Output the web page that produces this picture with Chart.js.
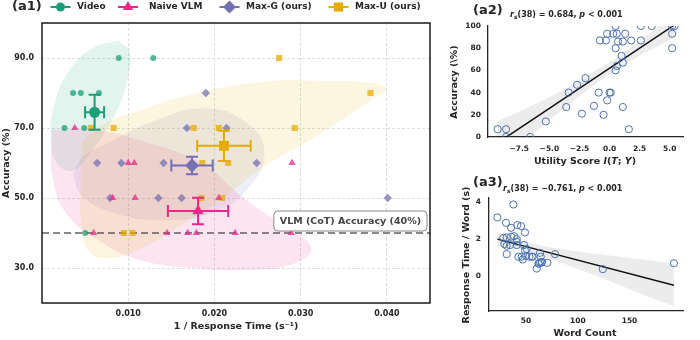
<!DOCTYPE html>
<html>
<head>
<meta charset="utf-8">
<script src="https://cdn.jsdelivr.net/npm/chart.js@4.4.1/dist/chart.umd.min.js"></script>
<style>
  html, body { margin: 0; padding: 0; background: #fff; }
  #wrap { position: relative; width: 700px; height: 340px; overflow: hidden; }
  canvas { position: absolute; }
  #c1 { left: 0; top: 0; }
  #c2 { left: 440px; top: 0; }
  #c3 { left: 440px; top: 165px; }
</style>
</head>
<body>
<div id="wrap">
  <canvas id="c1" width="440" height="340"></canvas>
  <canvas id="c2" width="260" height="170"></canvas>
  <canvas id="c3" width="260" height="175"></canvas>
</div>
<script>
// ---- (a1) accuracy vs 1 / response time ----
const seriesNames = ["Video", "Naive VLM", "Max-G (ours)", "Max-U (ours)"];

const videoX = [0.0089, 0.0129, 0.0036, 0.0045, 0.0066, 0.0026, 0.0049, 0.0050];
const videoY = [90, 90, 80, 80, 80, 70, 70, 40];
const naiveX = [0.0038, 0.0100, 0.0107, 0.0290, 0.0082, 0.0108, 0.0205, 0.0060, 0.0145, 0.0169, 0.0179, 0.0224, 0.0289];
const naiveY = [70, 60, 60, 60, 50, 50, 50, 40, 40, 40, 40, 40, 40];
const maxgX = [0.0190, 0.0168, 0.0214, 0.0064, 0.0092, 0.0141, 0.0249, 0.0079, 0.0135, 0.0162, 0.0401];
const maxgY = [80, 70, 70, 60, 60, 60, 60, 50, 50, 50, 50];
const maxuX = [0.0275, 0.0381, 0.0057, 0.0083, 0.0176, 0.0205, 0.0293, 0.0186, 0.0216, 0.0185, 0.0209, 0.0095, 0.0105];
const maxuY = [90, 80, 70, 70, 70, 70, 70, 60, 60, 50, 50, 40, 40];

const meanX = [0.0061, 0.0181, 0.0174, 0.0211];
const meanY = [74.5, 46.3, 59.3, 64.9];
const errX = [0.0011, 0.0035, 0.0024, 0.0031];
const errY = [5.0, 3.8, 2.5, 4.3];

// shaded regions (outline)
const greenBlobX = [0.0089, 0.0102, 0.0100, 0.0091, 0.0075, 0.0056, 0.0036, 0.0017, 0.0010, 0.0015, 0.0033, 0.0060];
const greenBlobY = [94.9, 91.6, 85, 77.3, 69.7, 63, 57.8, 60.2, 67.8, 77.3, 86.9, 93];
const pinkBlobX = [0.0011, 0.0060, 0.0120, 0.0184, 0.0234, 0.0280, 0.0312, 0.0295, 0.0245, 0.0175, 0.0110, 0.0065, 0.0030, 0.0013];
const pinkBlobY = [69.5, 69.5, 66, 60, 50, 42, 36, 31.5, 29.5, 30, 32.5, 38, 45, 55];
const greyBlobX = [0.0036, 0.0048, 0.0075, 0.0130, 0.0192, 0.0240, 0.0258, 0.0240, 0.0200, 0.0140, 0.0080, 0.0045];
const greyBlobY = [57, 62, 65.5, 72, 75.6, 71, 63, 53, 46, 43.6, 46, 51];
const yellowBlobX = [0.0047, 0.0075, 0.0114, 0.0160, 0.0250, 0.0330, 0.0378, 0.0399, 0.0385, 0.0320, 0.0255, 0.0210, 0.0160, 0.0110, 0.0080, 0.0055, 0.0046, 0.0045];
const yellowBlobY = [66.5, 71.6, 75, 78.7, 83, 83.5, 83, 81.3, 78.5, 68, 58.5, 50, 42, 35, 32.8, 34.5, 42, 55];

const cotAccuracy = 40;
const xTicks1 = [0.01, 0.02, 0.03, 0.04];
const yTicks1 = [30, 50, 70, 90];

// ---- (a2) accuracy vs utility score ----
const utilX = [-9.3, -8.6, -8.6, -6.6, -5.3, -3.6, -3.4, -2.7, -2.0, -2.3, -1.3, -0.9, -0.5, -0.2, 0.0, 0.1, 1.1, 1.6, -0.8, -0.3,
  -0.2, 0.3, 0.6, 0.5, 1.3, 0.7, 1.1, 1.8, 0.5, 1.0, 1.1, 0.6, 0.5, 2.6, 3.5, 2.6, 5.2, 5.2, 5.2, 5.4];
const accY = [7, 7, 0, 0, 14, 27, 40, 47, 53, 21, 28, 40, 20, 33, 40, 40, 27, 7, 87, 87,
  93, 93, 93, 100, 93, 86, 86, 87, 80, 73, 67, 64, 60, 100, 100, 87, 100, 93, 80, 100];
const reg2X = [-9.3, 5.4];
const reg2Y = [-5.3, 101];
const band2X = [-9.3, -7.5, -5, -2.5, 0, 1, 2.5, 4, 5.4];
const band2Hi = [14.4, 23, 36, 51, 67.5, 74.5, 86.5, 99, 111.6];
const band2Lo = [-25, -8, 15, 37, 56.5, 63.5, 73.5, 82, 90.4];
const xTicks2 = [-7.5, -5, -2.5, 0, 2.5, 5];
const yTicks2 = [0, 20, 40, 60, 80, 100];

// ---- (a3) response time per word vs word count ----
const wordX = [22.3, 37.7, 30.6, 35.5, 41.6, 45.2, 49, 28, 31.3, 35.5, 41, 41, 29, 31.3, 34.5, 41, 48, 50.6, 31.3, 42.6,
  45.8, 46.8, 50, 53.2, 55.5, 63.5, 64.2, 62, 60.3, 63.5, 65, 70.6, 78, 124.2, 192.9, 49, 38.4, 62.3, 65.5, 56.5];
const rtY = [3.17, 3.87, 2.88, 2.61, 2.76, 2.70, 2.36, 2.07, 2.09, 2.13, 2.0, 1.86, 1.73, 1.64, 1.68, 1.68, 1.68, 1.46, 1.19, 1.05,
  1.05, 0.9, 1.1, 1.05, 1.05, 1.26, 1.05, 0.68, 0.41, 0.74, 0.74, 0.72, 1.19, 0.38, 0.70, 1.39, 2.16, 0.67, 0.77, 1.05];
const reg3X = [22.3, 192.9];
const reg3Y = [2.0, -0.49];
const band3X = [22.3, 50, 75, 100, 125, 150, 175, 192.9];
const band3Hi = [2.35, 1.85, 1.55, 1.35, 1.15, 0.98, 0.82, 0.68];
const band3Lo = [1.65, 1.35, 0.91, 0.39, -0.13, -0.70, -1.26, -1.62];
const xTicks3 = [50, 100, 150];
const yTicks3 = [0, 2, 4];

// ---------------------------------------------------------------
const FAM = "'DejaVu Sans', sans-serif";
const fb = (s) => `bold ${s}px ${FAM}`;
const fi = (s) => `italic bold ${s}px ${FAM}`;
const colors = ["#1b9e77", "#e7298a", "#7570b3", "#e6ab02"];
const styles = ["circle", "triangle", "rectRot", "rect"];
const SEABLUE = "#4c72b0";

function rgba(hex, a) {
  const n = parseInt(hex.slice(1), 16);
  return `rgba(${n >> 16},${(n >> 8) & 255},${n & 255},${a})`;
}
const pts = (xs, ys) => xs.map((x, i) => ({ x, y: ys[i] }));
const loop = (xs, ys) => { const p = pts(xs, ys); p.push(p[0]); return p; };
const fixTicks = (vals) => (s) => { s.ticks = vals.map((v) => ({ value: v })); };

function marker(ctx, style, x, y, r) {
  ctx.beginPath();
  if (style === "circle") ctx.arc(x, y, r, 0, Math.PI * 2);
  else if (style === "triangle") {
    ctx.moveTo(x, y - r); ctx.lineTo(x + r * 0.866, y + r * 0.5); ctx.lineTo(x - r * 0.866, y + r * 0.5);
  } else if (style === "rectRot") {
    ctx.moveTo(x, y - r); ctx.lineTo(x + r, y); ctx.lineTo(x, y + r); ctx.lineTo(x - r, y);
  } else {
    const h = r * Math.SQRT1_2; ctx.rect(x - h, y - h, 2 * h, 2 * h);
  }
  ctx.closePath();
  ctx.fill();
}

function drawParts(ctx, x, y, parts, align) {
  let w = 0;
  parts.forEach((p) => { ctx.font = p.f; w += ctx.measureText(p.t).width; });
  let cx = align === "center" ? x - w / 2 : x;
  ctx.textAlign = "left";
  ctx.textBaseline = "middle";
  parts.forEach((p) => {
    ctx.font = p.f;
    ctx.fillText(p.t, cx, y + (p.dy || 0));
    cx += ctx.measureText(p.t).width;
  });
}

function textPlugin(items) {
  return {
    id: "texts",
    afterDraw(chart) {
      const ctx = chart.ctx;
      items.forEach((it) => {
        ctx.save();
        ctx.fillStyle = it.color || "#262626";
        ctx.translate(it.x, it.y);
        if (it.rot) ctx.rotate(it.rot);
        drawParts(ctx, 0, 0, it.parts, it.align || "center");
        ctx.restore();
      });
    },
  };
}

const rsParts = (val) => [
  { t: "r", f: fi(8) }, { t: "s", f: fi(6), dy: 2 },
  { t: `(38) = ${val}, `, f: fb(8) }, { t: "p", f: fi(8) }, { t: " < 0.001", f: fb(8) },
];

Chart.defaults.font.family = FAM;
Chart.defaults.animation = false;

// ---------------- (a1) ----------------
const a1Extras = {
  id: "a1Extras",
  beforeDatasetDraw(chart, args) {
    const ds = chart.data.datasets[args.index];
    if (ds.group === undefined) return;
    const i = ds.group, { ctx } = chart, { x, y } = chart.scales;
    const px = x.getPixelForValue(meanX[i]), py = y.getPixelForValue(meanY[i]);
    const x0 = x.getPixelForValue(meanX[i] - errX[i]), x1 = x.getPixelForValue(meanX[i] + errX[i]);
    const y0 = y.getPixelForValue(meanY[i] - errY[i]), y1 = y.getPixelForValue(meanY[i] + errY[i]);
    const cap = 6;
    ctx.save();
    ctx.strokeStyle = colors[i];
    ctx.lineWidth = 2;
    ctx.beginPath();
    ctx.moveTo(x0, py); ctx.lineTo(x1, py);
    ctx.moveTo(px, y0); ctx.lineTo(px, y1);
    ctx.moveTo(x0, py - cap); ctx.lineTo(x0, py + cap);
    ctx.moveTo(x1, py - cap); ctx.lineTo(x1, py + cap);
    ctx.moveTo(px - cap, y0); ctx.lineTo(px + cap, y0);
    ctx.moveTo(px - cap, y1); ctx.lineTo(px + cap, y1);
    ctx.stroke();
    ctx.restore();
  },
  afterDatasetsDraw(chart) {
    const { ctx, chartArea: a, scales: { y } } = chart;
    const label = `VLM (CoT) Accuracy (${cotAccuracy}%)`;
    ctx.save();
    ctx.font = fb(9.5);
    const w = ctx.measureText(label).width + 12, h = 20;
    const right = a.right - 3, bottom = y.getPixelForValue(cotAccuracy) - 2;
    ctx.beginPath();
    ctx.roundRect(right - w, bottom - h, w, h, 4);
    ctx.fillStyle = "rgba(255,255,255,0.92)";
    ctx.fill();
    ctx.strokeStyle = "#8a8a8a";
    ctx.lineWidth = 1;
    ctx.stroke();
    ctx.fillStyle = "#444";
    ctx.textAlign = "center";
    ctx.textBaseline = "middle";
    ctx.fillText(label, right - w / 2, bottom - h / 2 + 0.5);
    ctx.restore();
  },
  afterDraw(chart) {
    const { ctx, chartArea: a } = chart;
    ctx.save();
    ctx.strokeStyle = "#1a1a1a";
    ctx.lineWidth = 1.5;
    ctx.strokeRect(a.left, a.top, a.right - a.left, a.bottom - a.top);
    // panel tag + legend
    ctx.fillStyle = "#262626";
    ctx.font = fb(13);
    ctx.textBaseline = "middle";
    ctx.fillText("(a1)", 12, 7);
    const mx = [60.5, 128, 229.5, 338.5], tx = [77, 149, 246, 355], mr = [4.5, 6, 6.5, 6.5];
    seriesNames.forEach((nm, i) => {
      ctx.strokeStyle = colors[i];
      ctx.fillStyle = colors[i];
      ctx.lineWidth = 2;
      ctx.beginPath(); ctx.moveTo(mx[i] - 10, 7); ctx.lineTo(mx[i] + 10, 7); ctx.stroke();
      marker(ctx, styles[i], mx[i], 7, mr[i]);
      ctx.fillStyle = "#262626";
      ctx.font = fb(9);
      ctx.fillText(nm, tx[i], 7);
    });
    ctx.restore();
  },
};

const blob = (xs, ys, c) => ({
  type: "line", data: loop(xs, ys), fill: "shape", backgroundColor: rgba(c, 0.12),
  borderColor: "transparent", borderWidth: 1, pointRadius: 0, tension: 0.45, order: 10,
});
const dots = (xs, ys, i, r) => ({
  data: pts(xs, ys), pointStyle: styles[i], pointRadius: r, pointBackgroundColor: rgba(colors[i], 0.75),
  pointBorderColor: rgba(colors[i], 0.75), pointBorderWidth: 0, order: 5,
});
const mean = (i, r) => ({
  data: [{ x: meanX[i], y: meanY[i] }], group: i, pointStyle: styles[i], pointRadius: r,
  pointBackgroundColor: colors[i], pointBorderColor: colors[i], pointBorderWidth: 0, order: 1,
});

new Chart(document.getElementById("c1"), {
  type: "scatter",
  data: {
    datasets: [
      blob(yellowBlobX, yellowBlobY, colors[3]),
      blob(pinkBlobX, pinkBlobY, colors[1]),
      blob(greyBlobX, greyBlobY, colors[2]),
      blob(greenBlobX, greenBlobY, colors[0]),
      {
        type: "line", data: [{ x: 0, y: cotAccuracy }, { x: 0.045, y: cotAccuracy }],
        borderColor: "rgba(80,80,80,0.9)", borderWidth: 1.5, borderDash: [7, 4], pointRadius: 0, fill: false, order: 8,
      },
      dots(videoX, videoY, 0, 3),
      dots(naiveX, naiveY, 1, 4.2),
      dots(maxgX, maxgY, 2, 4.2),
      dots(maxuX, maxuY, 3, 4.3),
      mean(0, 5.5), mean(1, 6.5), mean(2, 7), mean(3, 7),
    ],
  },
  options: {
    responsive: false,
    events: [],
    layout: { padding: { left: 0, top: 23, right: 10, bottom: 0 } },
    plugins: { legend: { display: false }, tooltip: { enabled: false } },
    scales: {
      x: {
        type: "linear", min: 0, max: 0.045,
        afterBuildTicks: fixTicks(xTicks1),
        afterFit: (s) => { s.height = 37; },
        grid: { color: "#d6d6d6", lineWidth: 0.8, drawTicks: false },
        border: { display: false, dash: [3, 2] },
        ticks: { font: { size: 8, weight: "bold" }, color: "#262626", padding: 6, autoSkip: false, maxRotation: 0,
          callback: (v) => v.toFixed(3) },
      },
      y: {
        min: 20, max: 100,
        afterBuildTicks: fixTicks(yTicks1),
        afterFit: (s) => { s.width = 42; },
        grid: { color: "#d6d6d6", lineWidth: 0.8, drawTicks: false },
        border: { display: false, dash: [3, 2] },
        ticks: { font: { size: 8, weight: "bold" }, color: "#262626", padding: 8, autoSkip: false,
          callback: (v) => v.toFixed(1) },
      },
    },
  },
  plugins: [a1Extras, textPlugin([
    { x: 7, y: 163, rot: -Math.PI / 2, parts: [{ t: "Accuracy (%)", f: fb(9.5) }] },
    { x: 236, y: 327, parts: [{ t: "1 / Response Time (s\u207B\u00B9)", f: fb(9.5) }] },
  ])],
});

// ---------------- (a2) / (a3) regression panels ----------------
function regPanel(id, cfg) {
  const tickFont = { size: 7.5, weight: "bold" };
  new Chart(document.getElementById(id), {
    type: "scatter",
    data: {
      datasets: [
        { type: "line", data: pts(cfg.bandX, cfg.bandHi), fill: "+1", backgroundColor: "rgba(0,0,0,0.075)",
          borderColor: "transparent", borderWidth: 1, pointRadius: 0, cubicInterpolationMode: "monotone", order: 10 },
        { type: "line", data: pts(cfg.bandX, cfg.bandLo), fill: false,
          borderColor: "transparent", borderWidth: 1, pointRadius: 0, cubicInterpolationMode: "monotone", order: 10 },
        { type: "line", data: pts(cfg.regX, cfg.regY), fill: false, borderColor: "#111", borderWidth: 1.5,
          pointRadius: 0, order: 5 },
        { data: pts(cfg.xs, cfg.ys), pointRadius: 3.6, pointBackgroundColor: "rgba(0,0,0,0)",
          pointBorderColor: SEABLUE, pointBorderWidth: 1, order: 1 },
      ],
    },
    options: {
      responsive: false,
      events: [],
      layout: { padding: { left: 0, top: cfg.top, right: 17, bottom: 0 } },
      plugins: { legend: { display: false }, tooltip: { enabled: false } },
      scales: {
        x: {
          type: "linear", min: cfg.xMin, max: cfg.xMax,
          afterBuildTicks: fixTicks(cfg.xTicks),
          afterFit: (s) => { s.height = cfg.xH; },
          grid: { display: false, drawTicks: false },
          border: { display: true, color: "#262626", width: 1.3 },
          ticks: { font: tickFont, color: "#262626", padding: cfg.xPad, autoSkip: false, maxRotation: 0, callback: cfg.xFmt },
        },
        y: {
          min: cfg.yMin, max: cfg.yMax,
          afterBuildTicks: fixTicks(cfg.yTicks),
          afterFit: (s) => { s.width = cfg.yW; },
          grid: { display: false, drawTicks: false },
          border: { display: true, color: "#262626", width: 1.3 },
          ticks: { font: tickFont, color: "#262626", padding: cfg.yPad, autoSkip: false, callback: (v) => String(v) },
        },
      },
    },
    plugins: [textPlugin(cfg.texts)],
  });
}

regPanel("c2", {
  xs: utilX, ys: accY, regX: reg2X, regY: reg2Y, bandX: band2X, bandHi: band2Hi, bandLo: band2Lo,
  xMin: -10.1, xMax: 6.1, yMin: 0, yMax: 100, xTicks: xTicks2, yTicks: yTicks2,
  top: 26, xH: 33, yW: 48, xPad: 8, yPad: 7,
  xFmt: (v) => (v < 0 ? "\u2212" : "") + Math.abs(v).toFixed(1),
  texts: [
    { x: 33, y: 11, align: "left", parts: [{ t: "(a2)", f: fb(13) }] },
    { x: 70, y: 15, align: "left", parts: rsParts("0.684") },
    { x: 15, y: 82, rot: -Math.PI / 2, parts: [{ t: "Accuracy (\\%)", f: fb(9.5) }] },
    { x: 145, y: 161.5, parts: [
      { t: "Utility Score ", f: fb(9.5) }, { t: "I", f: fi(9.5) }, { t: "(", f: fb(9.5) }, { t: "T", f: fi(9.5) },
      { t: "; ", f: fb(9.5) }, { t: "Y", f: fi(9.5) }, { t: ")", f: fb(9.5) }] },
  ],
});

regPanel("c3", {
  xs: wordX, ys: rtY, regX: reg3X, regY: reg3Y, bandX: band3X, bandHi: band3Hi, bandLo: band3Lo,
  xMin: 14.2, xMax: 201.7, yMin: -1.88, yMax: 4.22, xTicks: xTicks3, yTicks: yTicks3,
  top: 33, xH: 29, yW: 49, xPad: 6, yPad: 8,
  xFmt: (v) => String(v),
  texts: [
    { x: 33, y: 18, align: "left", parts: [{ t: "(a3)", f: fb(13) }] },
    { x: 63, y: 24, align: "left", parts: rsParts("\u22120.761") },
    { x: 27, y: 90, rot: -Math.PI / 2, parts: [{ t: "Response Time / Word (s)", f: fb(9.5) }] },
    { x: 145, y: 169, parts: [{ t: "Word Count", f: fb(9.5) }] },
  ],
});
</script>
</body>
</html>
